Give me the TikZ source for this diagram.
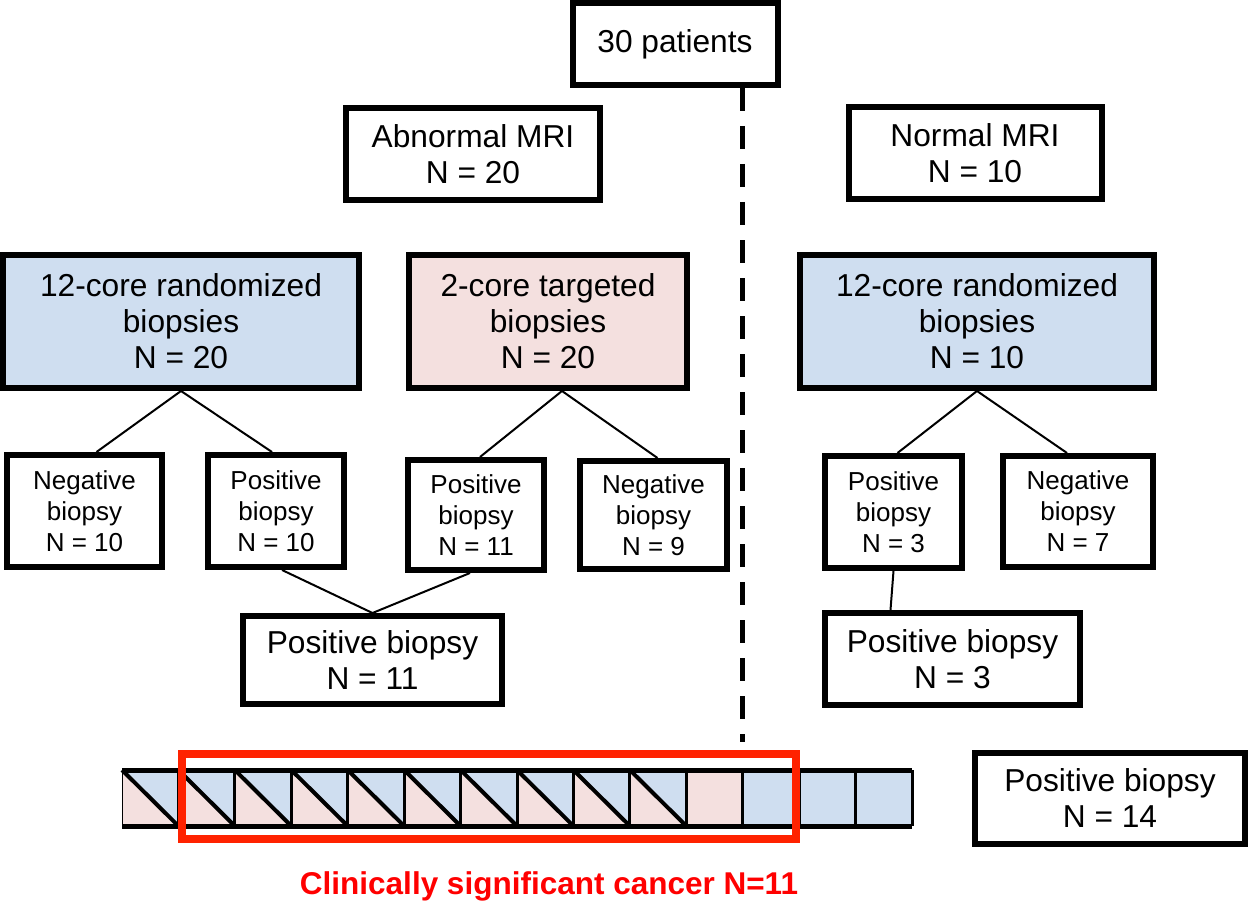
\documentclass[tikz,border=0pt]{standalone}
\usepackage{fontspec}
\setmainfont{Liberation Sans}
\usetikzlibrary{calc}
\definecolor{cblue}{RGB}{207,222,240}
\definecolor{cpink}{RGB}{244,224,223}
\definecolor{cred}{RGB}{255,34,0}
\definecolor{tred}{RGB}{255,0,0}
\begin{document}
\begin{tikzpicture}[x=1pt,y=-1pt,
  box/.style={draw, line width=6pt, inner sep=0pt, align=center, font=\fontsize{31.7}{36}\selectfont},
  sbox/.style={draw, line width=6pt, inner sep=0pt, align=center, font=\fontsize{26}{31}\selectfont},
  conn/.style={line width=2pt},
  grid/.style={line width=4pt},
  dashline/.style={line width=5pt, dash pattern=on 23pt off 15pt}]
\useasboundingbox (0,0) rectangle (1250,904);

% top level
\node[box, minimum width=205pt, minimum height=82pt] (pat) at (675,44) {30 patients};
\node[box, minimum width=254pt, minimum height=92pt] (abn) at (473,154) {Abnormal MRI\\N = 20};
\node[box, minimum width=253pt, minimum height=92pt] (nor) at (975,153) {Normal MRI\\N = 10};

% biopsy schemes
\node[box, fill=cblue, minimum width=356pt, minimum height=133pt] (blueL) at (181,321.5) {12-core randomized\\biopsies\\N = 20};
\node[box, fill=cpink, minimum width=278pt, minimum height=133pt] (pink) at (548,321.5) {2-core targeted\\biopsies\\N = 20};
\node[box, fill=cblue, minimum width=354pt, minimum height=133pt] (blueR) at (977,321.5) {12-core randomized\\biopsies\\N = 10};

% results
\node[sbox, minimum width=155pt, minimum height=112pt] (neg10) at (84.5,511) {Negative\\biopsy\\N = 10};
\node[sbox, minimum width=136pt, minimum height=112pt] (pos10) at (276,511) {Positive\\biopsy\\N = 10};
\node[sbox, minimum width=136pt, minimum height=110pt] (pos11) at (476,515) {Positive\\biopsy\\N = 11};
\node[sbox, minimum width=147pt, minimum height=108pt] (neg9) at (653.5,515) {Negative\\biopsy\\N = 9};
\node[sbox, minimum width=137pt, minimum height=112pt] (pos3) at (893.5,512) {Positive\\biopsy\\N = 3};
\node[sbox, minimum width=150pt, minimum height=111pt] (neg7) at (1078,511.5) {Negative\\biopsy\\N = 7};

% combined
\node[box, minimum width=259pt, minimum height=88pt] (pb11) at (372.5,660) {Positive biopsy\\N = 11};
\node[box, minimum width=255pt, minimum height=92pt] (pb3) at (952.5,659) {Positive biopsy\\N = 3};
\node[box, minimum width=270pt, minimum height=91pt] (pb14) at (1110,798.5) {Positive biopsy\\N = 14};

% connectors
\draw[conn] ([xshift=12pt]neg10.north) -- (blueL.south) -- ([xshift=-4pt]pos10.north);
\draw[conn] ([xshift=4pt]pos11.north) -- ([xshift=14pt]pink.south) -- ([xshift=4pt]neg9.north);
\draw[conn] ([xshift=4pt]pos3.north) -- (blueR.south) -- ([xshift=-11pt]neg7.north);
\draw[conn] ([xshift=6pt]pos10.south) -- (pb11.north) -- ([xshift=-6pt]pos11.south);
\draw[conn] (pos3.south) -- ([xshift=-3pt]pos3.south |- pb3.north);

% dashed divider
\coordinate (dend) at (742,742);
\draw[dashline] ([xshift=67pt]pat.south) -- (dend);

% strip of 14 cells
\def\cw{56.43}
\foreach \i in {0,...,9}{
  \pgfmathsetmacro{\xa}{122+\i*\cw}
  \pgfmathsetmacro{\xb}{122+(\i+1)*\cw}
  \fill[cpink] (\xa,770) -- (\xb,826) -- (\xa,826) -- cycle;
  \fill[cblue] (\xa,770) -- (\xb,770) -- (\xb,826) -- cycle;
  \draw[grid] (\xa,770) -- (\xb,826);
}
\fill[cpink] (122+10*\cw,770) rectangle (122+11*\cw,826);
\fill[cblue] (122+11*\cw,770) rectangle (122+14*\cw,826);
\foreach \i in {1,...,14}{
  \draw[line width=3pt] (122+\i*\cw,770) -- (122+\i*\cw,826);
}
\draw[line width=1pt] (122,770) -- (122,826);
\draw[line width=5pt] (122,770) -- (122+14*\cw,770);
\draw[line width=5pt] (122,826) -- (122+14*\cw,826);

% red frame and caption
\node[draw=cred, line width=8pt, minimum width=614pt, minimum height=85pt, inner sep=0pt] (sig) at (489,796.5) {};
\node[font=\fontsize{31.5}{36}\selectfont\bfseries, text=tred, inner sep=0pt] (cap) at (549,886) {Clinically significant cancer N=11};
\end{tikzpicture}
\end{document}
